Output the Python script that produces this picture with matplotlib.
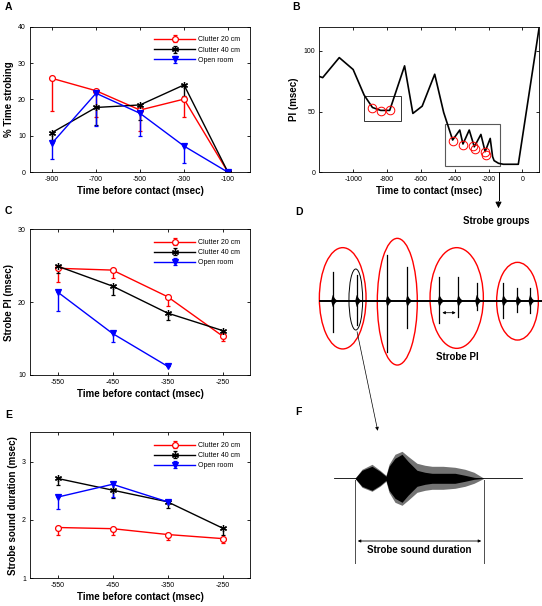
import numpy as np
import matplotlib
matplotlib.use("Agg")
from matplotlib import pyplot as plt
from matplotlib.patches import Ellipse, Rectangle

plt.rcParams["font.family"] = ["Liberation Sans", "DejaVu Sans"]
plt.rcParams["axes.unicode_minus"] = False

# panel A: % time strobing
t_a = [-900, -700, -500, -300, -100]
a_c20 = [25.8, 22.4, 17.1, 20.1, 0]
a_c20_err = [8.9, 7.1, 5.7, 4.8, 0]
a_c40 = [10.9, 17.8, 18.5, 24.0, 0]
a_c40_err = [2.0, 4.8, 4.1, 3.0, 0]
a_open = [8.0, 21.7, 16.2, 7.2, 0]
a_open_err = [4.4, 8.9, 6.1, 4.7, 0]

# panel B: PI over time to contact
b_t = [-1200, -1180, -1082, -1000, -935, -886, -837, -784, -696, -647, -592, -518,
       -465, -412, -370, -351, -314, -284, -245, -220, -190, -176, -167, -141, -112, -24, 100]
b_pi = [79, 78, 94.5, 84.7, 63.6, 53.4, 51, 51, 87.7, 48.5, 54.5, 80.8,
        49.3, 26.6, 34.8, 23.3, 34.8, 21, 31.2, 17, 27.9, 12.9, 9.6, 7.4, 6.6, 6.6, 120]
b_circ_t = [-886, -837, -784, -410, -351, -290, -280, -222, -212]
b_circ_pi = [53.2, 50.7, 51.2, 26, 22.7, 21.5, 19.5, 16.5, 14]

# panel C: strobe PI
t_c = [-550, -450, -350, -250]
c_c20 = [24.65, 24.4, 20.75, 15.35]
c_c20_err = [1.85, 1.1, 1.25, 0.65]
c_c40 = [24.95, 22.2, 18.5, 16.1]
c_c40_err = [1.0, 1.2, 1.0, 0.7]
t_c_open = [-550, -450, -350]
c_open = [21.4, 15.7, 11.2]
c_open_err = [2.6, 1.2, 0]

# panel E: strobe sound duration
e_c20 = [1.87, 1.85, 1.75, 1.68]
e_c20_err = [0.13, 0.11, 0.09, 0.08]
e_c40 = [2.71, 2.51, 2.31, 1.86]
e_c40_err = [0.11, 0.13, 0.10, 0.12]
e_open = [2.39, 2.61, 2.31]
e_open_err = [0.21, 0.22, 0]

# panel D: pulse train (pixel positions, amplitudes up / down)
d_x = [332.7, 356.7, 387.3, 407.3, 439.3, 458.3, 476.7, 503.3, 517.3, 530]
d_up = [29, 26, 46, 34, 24, 24, 18, 18, 13, 13]
d_dn = [31, 24, 51, 27, 22, 16, 9, 17, 11, 12]
ell_cx = [342.7, 397.3, 456.7, 517.5]
ell_cy = [298.3, 301.7, 298, 301.2]
ell_w = [46.7, 40, 53.3, 41.7]
ell_h = [101.3, 126.7, 100.7, 77.7]

# panel F: single strobe sound envelope
f_x = [355, 362, 372, 380, 386, 389, 395, 402, 408, 417, 425, 432, 443, 455, 465, 474, 484]
f_up = [0, 9, 14, 8, 3, 14, 24, 27, 22, 15, 13, 12, 12, 11, 9, 6, 0]
f_dn = [0, 9, 13, 8, 3, 14, 24, 27, 22, 14, 12, 11, 11, 10, 8, 5, 0]
f_in = [0, 8, 12, 7, 2, 12, 20, 24, 17, 8, 6, 5, 5, 5, 3, 1, 0]

labels = ["Clutter 20 cm", "Clutter 40 cm", "Open room"]
asterisk = (6, 2, 0)

fig = plt.figure(figsize=(5.42, 6.06), dpi=100)


def style(ax):
    ax.tick_params(direction="in", length=2, width=0.6, labelsize=5,
                   top=True, right=True, pad=3)
    for s in ax.spines.values():
        s.set_linewidth(0.6)


def series(ax, x, y, err, color, marker, ms, mfc, label):
    ax.errorbar(x, y, yerr=[err, np.zeros(len(err))], color=color, marker=marker,
                ms=ms, mfc=mfc, mec=color, mew=0.9, lw=1.0, elinewidth=1.0,
                capsize=1.5, capthick=1.0, label=label)


def three(ax, x, xo, s20, e20, s40, e40, so, eo):
    series(ax, x, s20, e20, "red", "o", 4.2, "white", labels[0])
    series(ax, x, s40, e40, "black", asterisk, 5, "black", labels[1])
    series(ax, xo, so, eo, "blue", "v", 4.5, "blue", labels[2])
    ax.legend(loc="upper right", frameon=False, fontsize=5, handlelength=6,
              handletextpad=0.4, labelspacing=0.45, borderaxespad=1.0)


# A
ax_a = fig.add_axes([0.0554, 0.7157, 0.4059, 0.2403])
three(ax_a, t_a, t_a, a_c20, a_c20_err, a_c40, a_c40_err, a_open, a_open_err)
ax_a.set_xlim(-1000, 0)
ax_a.set_ylim(0, 40)
ax_a.set_xticks(t_a)
ax_a.set_yticks([0, 10, 20, 30, 40])
ax_a.set_xlabel("Time before contact (msec)", fontsize=7, fontweight="bold", labelpad=2)
ax_a.set_ylabel("% Time strobing", fontsize=7, fontweight="bold", labelpad=3)
style(ax_a)

# B
ax_b = fig.add_axes([0.5891, 0.7157, 0.4059, 0.2403])
ax_b.plot(b_t, b_pi, color="black", lw=1.2)
ax_b.plot(b_circ_t, b_circ_pi, ls="none", marker="o", ms=6.2, mfc="none",
          mec="red", mew=0.7)
ax_b.add_patch(Rectangle((-935, 42.2), 219, 20.8, fill=False, ec="0.2", lw=0.7))
ax_b.add_patch(Rectangle((-457, 5.5), 326, 34.2, fill=False, ec="0.35", lw=0.8))
ax_b.set_xlim(-1200, 100)
ax_b.set_ylim(0, 120)
ax_b.set_xticks([-1000, -800, -600, -400, -200, 0])
ax_b.set_yticks([0, 50, 100])
ax_b.set_xlabel("Time to contact (msec)", fontsize=7, fontweight="bold", labelpad=2)
ax_b.set_ylabel("PI (msec)", fontsize=7, fontweight="bold", labelpad=3)
style(ax_b)

# C
ax_c = fig.add_axes([0.0554, 0.3812, 0.4059, 0.2404])
three(ax_c, t_c, t_c_open, c_c20, c_c20_err, c_c40, c_c40_err, c_open, c_open_err)
ax_c.set_xlim(-600, -200)
ax_c.set_ylim(10, 30)
ax_c.set_xticks(t_c)
ax_c.set_yticks([10, 20, 30])
ax_c.set_xlabel("Time before contact (msec)", fontsize=7, fontweight="bold", labelpad=2)
ax_c.set_ylabel("Strobe PI (msec)", fontsize=7, fontweight="bold", labelpad=3)
style(ax_c)

# E
ax_e = fig.add_axes([0.0554, 0.0457, 0.4059, 0.2409])
three(ax_e, t_c, t_c_open, e_c20, e_c20_err, e_c40, e_c40_err, e_open, e_open_err)
ax_e.set_xlim(-600, -200)
ax_e.set_ylim(1, 3.5)
ax_e.set_xticks(t_c)
ax_e.set_yticks([1, 2, 3])
ax_e.set_xlabel("Time before contact (msec)", fontsize=7, fontweight="bold", labelpad=2)
ax_e.set_ylabel("Strobe sound duration (msec)", fontsize=7, fontweight="bold", labelpad=3)
style(ax_e)

# overlay in pixel coordinates for letters and drawings
ov = fig.add_axes([0, 0, 1, 1], zorder=10)
ov.set_xlim(0, 542)
ov.set_ylim(606, 0)
ov.axis("off")
ov.patch.set_alpha(0)

for lx, ly, lt in [(5, 1.5, "A"), (292, 1.5, "B"), (5, 206, "C"),
                   (295, 207, "D"), (5, 410, "E"), (295, 407, "F")]:
    ov.text(lx, ly, lt, fontsize=7.5, fontweight="bold", va="top", ha="left")

# B -> D connector
ov.plot([498.5, 498.5], [172.3, 200], color="black", lw=0.7)
ov.annotate("", xy=(498.5, 211), xytext=(498.5, 199),
            arrowprops=dict(arrowstyle="-|>", color="black", lw=0.7, mutation_scale=9))
ov.text(496.5, 221, "Strobe groups", fontsize=7, fontweight="bold", ha="center", va="center")

# D: pulses
base_d = 301
ov.plot([320, 542], [base_d, base_d], color="black", lw=1.4)
for x, u, d in zip(d_x, d_up, d_dn):
    ov.plot([x, x], [base_d - u, base_d + d], color="black", lw=0.9)
    ov.fill([x - 1.5, x, x + 2.5, x + 5, x + 2.5, x],
            [base_d, base_d - 6, base_d - 2, base_d, base_d + 2, base_d + 6],
            color="black", lw=0)
for cx, cy, w, h in zip(ell_cx, ell_cy, ell_w, ell_h):
    ov.add_patch(Ellipse((cx, cy), w, h, fill=False, ec="red", lw=1.0))
ov.add_patch(Ellipse((355.8, 299.5), 13.7, 61, fill=False, ec="black", lw=0.7))
ov.annotate("", xy=(439.5, 312.7), xytext=(458.5, 312.7),
            arrowprops=dict(arrowstyle="<|-|>", color="black", lw=0.6, mutation_scale=4))
ov.text(457, 357, "Strobe PI", fontsize=7, fontweight="bold", ha="center", va="center")
ov.annotate("", xy=(378.3, 433.5), xytext=(356.5, 329),
            arrowprops=dict(arrowstyle="-|>", color="black", lw=0.5, mutation_scale=5))

# F: single sound
base_f = 478.3
ov.plot([334, 522], [base_f, base_f], color="black", lw=0.6)
ov.fill_between(f_x, [base_f - u for u in f_up], [base_f + d for d in f_dn],
                color="0.45", lw=0)
ov.fill_between(f_x, [base_f - v for v in f_in], [base_f + v for v in f_in],
                color="black", lw=0)
ov.plot([355, 355], [480, 563], color="0.3", lw=0.7)
ov.plot([484, 484], [480, 563], color="0.3", lw=0.7)
ov.annotate("", xy=(355, 541), xytext=(484, 541),
            arrowprops=dict(arrowstyle="<|-|>", color="black", lw=0.6, mutation_scale=4))
ov.text(419.5, 550, "Strobe sound duration", fontsize=7, fontweight="bold",
        ha="center", va="center")

fig.savefig("out.png", dpi=100)
